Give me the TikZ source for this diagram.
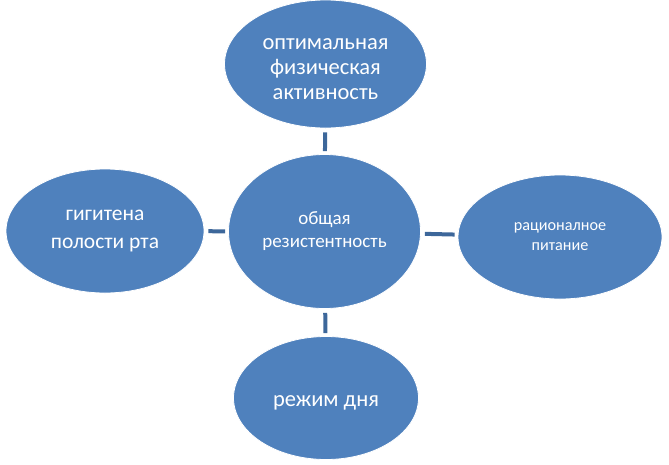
\documentclass[tikz,border=0pt]{standalone}
\usepackage{fontspec}
\setmainfont{Carlito}
\usetikzlibrary{shapes.geometric}
\definecolor{bubblefill}{HTML}{4F81BD}
\definecolor{linkcol}{HTML}{3D679A}
\tikzset{
	bubble/.style={ellipse, fill=bubblefill, draw=white, line width=0.8pt, inner sep=0pt, text=white, align=center},
	link/.style={line width=4pt, draw=linkcol, shorten <=4pt, shorten >=3pt}
}

\begin{document}
\begin{tikzpicture}[x=1pt, y=-1pt]
			%%%%% START %%%%%
			
			\useasboundingbox (0, 0) rectangle (669, 464);
			
			\node[bubble, minimum width=202, minimum height=128, text height=72pt, font=\fontsize{22.5}{25}\selectfont] (activity) at (325.5, 64) {оптимальная\\физическая\\активность};
			\node[bubble, minimum width=192, minimum height=154, font=\fontsize{19}{23}\selectfont] (resist) at (324.5, 231.5) {общая\\резистентность};
			\node[bubble, minimum width=198, minimum height=124, font=\fontsize{21.5}{28}\selectfont] (hygiene) at (105, 231) {гигитена\\полости рта};
			\node[bubble, minimum width=204, minimum height=124, font=\fontsize{16.2}{20}\selectfont] (food) at (560, 237) {рационалное\\питание};
			\node[bubble, minimum width=185, minimum height=123, text height=20pt, font=\fontsize{22.5}{26}\selectfont] (regime) at (326, 398) {режим дня};
			
			\draw[link] (activity) -- (resist);
			\draw[link] (hygiene) -- (resist);
			\draw[link] (resist) -- (food);
			\draw[link] (resist) -- (regime);
			
			%%%%% END %%%%%
\end{tikzpicture}
\end{document}
